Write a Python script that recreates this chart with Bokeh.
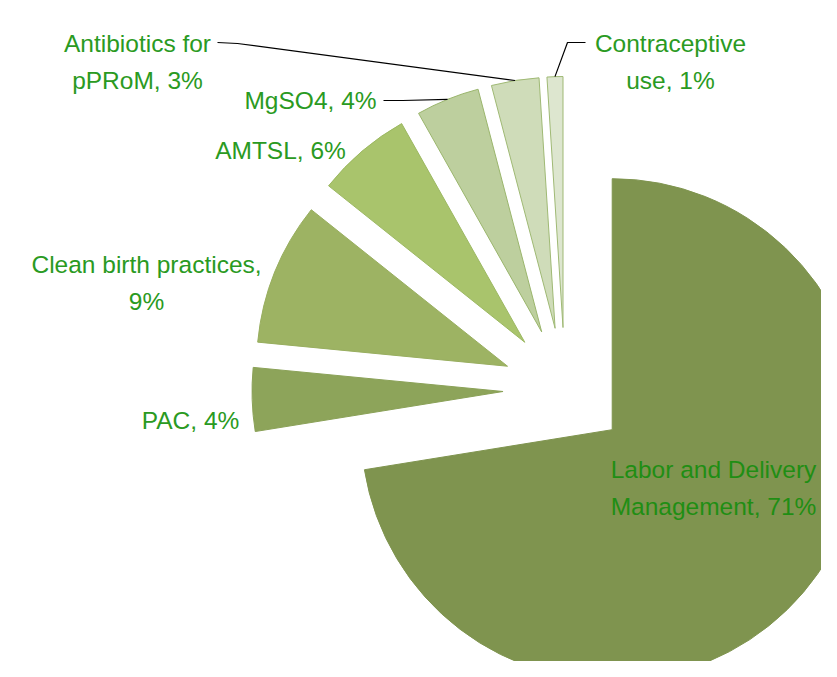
import numpy as np
from bokeh.plotting import figure
from bokeh.models import Range1d, ColumnDataSource
from bokeh.embed import file_html
from bokeh.resources import INLINE
from bokeh.core.properties import value

# ---------------- data ----------------
categories = ["Labor and Delivery Management", "PAC", "Clean birth practices",
              "AMTSL", "MgSO4", "Antibiotics for pPRoM", "Contraceptive use"]
percents = [71, 4, 9, 6, 4, 3, 1]
label_lines = [["Labor and Delivery", "Management, 71%"],
               ["PAC, 4%"],
               ["Clean birth practices,", "9%"],
               ["AMTSL, 6%"],
               ["MgSO4, 4%"],
               ["Antibiotics for", "pPRoM, 3%"],
               ["Contraceptive", "use, 1%"]]

# ---------------- style / layout ----------------
fills = ["#7f944f", "#8da45a", "#9db363", "#a9c46c", "#bdcf9e", "#cfdcb9", "#dde6cf"]
lines = ["#7f944f", "#8aa157", "#98ae5f", "#9cb862", "#9ab56c", "#9fb974", "#9fb974"]
FONT = "Liberation Sans"
FS = "24.5px"
TXT = "#2a9a22"
TXT_IN = "#1f8e14"

W, H = 821, 661
CX, CY = 564.5, 389.0      # pie centre in picture pixels
R = 251.0
EXPLODE = 62.0
LINE_GAP = 36.5

# label anchors: centre x, first baseline y (picture pixels)
label_pos = [(713, 469), (190, 420), (146, 264), (280, 150), (310, 100), (137, 43), (670, 43)]
# leader lines: start points near labels (picture px), keyed by slice index
leaders = {5: [(217, 42), (237, 43)], 4: [(383, 100), (402, 100)], 6: [(585, 42), (567, 42)]}


def to_data(X, Y):
    return X, H - Y


p = figure(width=W, height=H, output_backend="svg", toolbar_location=None,
           x_range=Range1d(0, W), y_range=Range1d(0, H),
           x_axis_type=None, y_axis_type=None, min_border=0,
           outline_line_color=None, background_fill_color="white",
           border_fill_color="white")
p.xgrid.visible = False
p.ygrid.visible = False

total = float(sum(percents))
cx, cy = to_data(CX, CY)
xs, ys, starts, ends, mids = [], [], [], [], []
cum = 0.0
for v in percents:
    a0 = np.pi / 2 - 2 * np.pi * cum / total          # clockwise from 12 o'clock
    a1 = np.pi / 2 - 2 * np.pi * (cum + v) / total
    mid = (a0 + a1) / 2
    xs.append(cx + EXPLODE * np.cos(mid))
    ys.append(cy + EXPLODE * np.sin(mid))
    starts.append(a1)
    ends.append(a0)
    mids.append(mid)
    cum += v

src = ColumnDataSource(dict(x=xs, y=ys, start=starts, end=ends, fill=fills, line=lines, cat=categories))
p.wedge(x="x", y="y", radius=R, start_angle="start", end_angle="end", direction="anticlock",
        fill_color="fill", line_color="line", line_width=1, source=src)

# leader lines
for i, pts in leaders.items():
    ox = xs[i] + R * np.cos(mids[i])
    oy = ys[i] + R * np.sin(mids[i])
    lx = [to_data(*q)[0] for q in pts] + [ox]
    ly = [to_data(*q)[1] for q in pts] + [oy]
    p.line(lx, ly, line_color="black", line_width=1.2)

# labels
tx, ty, tt, tc = [], [], [], []
for i, ls in enumerate(label_lines):
    X, Y = label_pos[i]
    for j, s in enumerate(ls):
        dx, dy = to_data(X, Y + j * LINE_GAP)
        tx.append(dx)
        ty.append(dy)
        tt.append(s)
        tc.append(TXT_IN if i == 0 else TXT)
p.text(x=tx, y=ty, text=tt, text_color=tc, text_font=value(FONT), text_font_size=FS,
       text_align="center", text_baseline="alphabetic")

open("out.html", "w").write(file_html(p, INLINE))
